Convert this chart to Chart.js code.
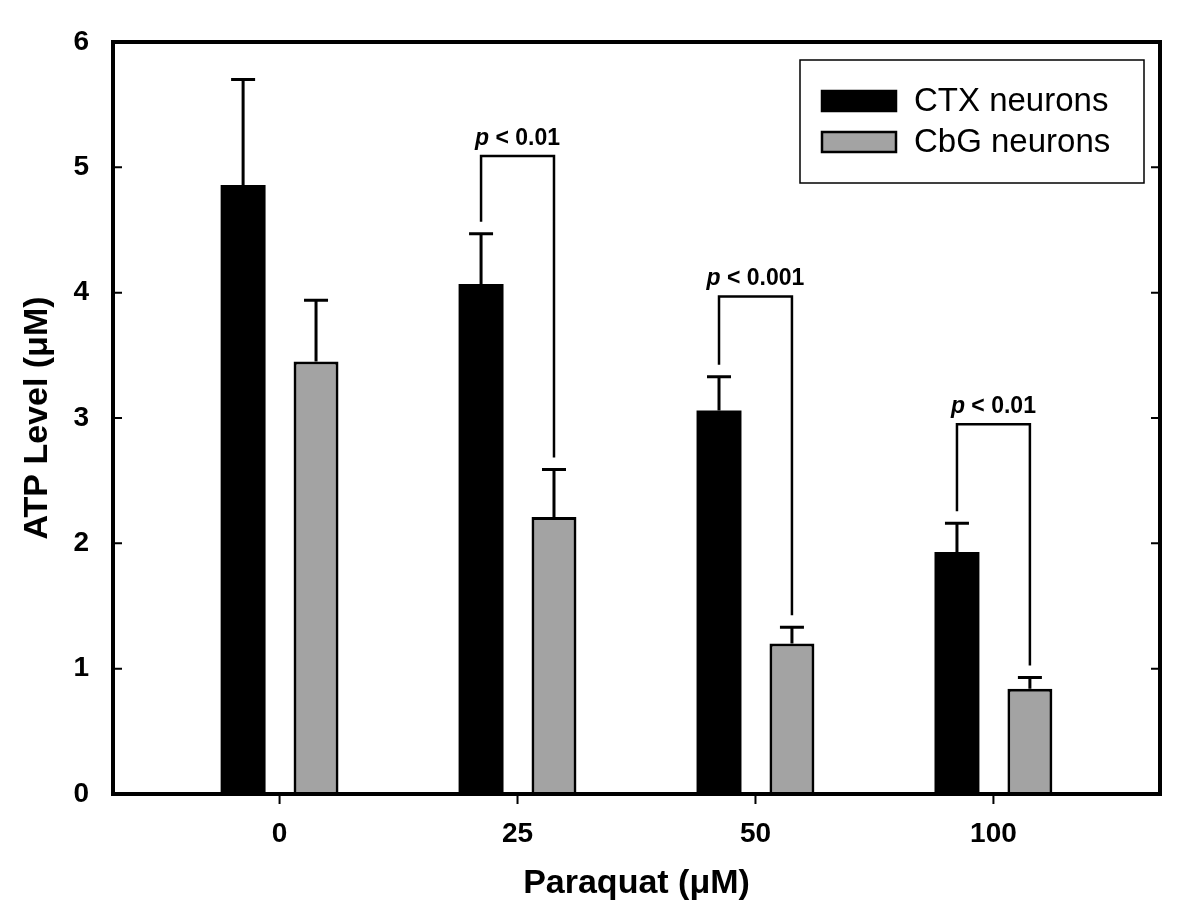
<!DOCTYPE html>
<html>
<head>
<meta charset="utf-8">
<script src="https://cdn.jsdelivr.net/npm/chart.js@4.4.1/dist/chart.umd.min.js"></script>
<style>
html,body{margin:0;padding:0;background:#fff;}
#wrap{width:1200px;height:912px;}
</style>
</head>
<body>
<div id="wrap"><canvas id="c" width="1200" height="912"></canvas></div>
<script>
// ---- data ----
const categories = ['0', '25', '50', '100'];
const seriesNames = ['CTX neurons', 'CbG neurons'];
const ctxValues = [4.86, 4.07, 3.06, 1.93];
const ctxErrors = [0.84, 0.40, 0.27, 0.23];
const cbgValues = [3.45, 2.21, 1.20, 0.84];
const cbgErrors = [0.49, 0.38, 0.13, 0.09];
const yTicks = [0, 1, 2, 3, 4, 5, 6];
const sigCategories = [1, 2, 3];
const sigLabels = ['< 0.01', '< 0.001', '< 0.01'];
const sigBracketLevel = [5.09, 3.97, 2.95];

const FONT = "'Liberation Sans', Arial, Helvetica, sans-serif";

const toPoints = (vals) => vals.map((v, i) => ({ x: i, y: v }));

const errorBars = {
  id: 'errorBars',
  afterDatasetsDraw(chart) {
    const ctx = chart.ctx;
    const y = chart.scales.y;
    const errs = [ctxErrors, cbgErrors];
    ctx.save();
    ctx.strokeStyle = '#000';
    ctx.lineWidth = 3;
    chart.data.datasets.forEach((ds, di) => {
      const meta = chart.getDatasetMeta(di);
      meta.data.forEach((bar, i) => {
        const v = ds.data[i].y;
        const top = y.getPixelForValue(v + errs[di][i]);
        ctx.beginPath();
        ctx.moveTo(bar.x, bar.y);
        ctx.lineTo(bar.x, top);
        ctx.moveTo(bar.x - 12, top);
        ctx.lineTo(bar.x + 12, top);
        ctx.stroke();
      });
    });
    // significance brackets
    const m0 = chart.getDatasetMeta(0), m1 = chart.getDatasetMeta(1);
    sigCategories.forEach((ci, k) => {
      const xl = m0.data[ci].x, xr = m1.data[ci].x;
      const yt = y.getPixelForValue(sigBracketLevel[k]);
      const yl = y.getPixelForValue(ctxValues[ci] + ctxErrors[ci]) - 12;
      const yr = y.getPixelForValue(cbgValues[ci] + cbgErrors[ci]) - 12;
      ctx.lineWidth = 2.5;
      ctx.beginPath();
      ctx.moveTo(xl, yl);
      ctx.lineTo(xl, yt);
      ctx.lineTo(xr, yt);
      ctx.lineTo(xr, yr);
      ctx.stroke();
      // label: italic p + rest
      ctx.fillStyle = '#000';
      ctx.textBaseline = 'alphabetic';
      ctx.textAlign = 'left';
      const f1 = 'italic bold 23px ' + FONT;
      const f2 = 'bold 23px ' + FONT;
      ctx.font = f1;
      const w1 = ctx.measureText('p').width;
      ctx.font = f2;
      const rest = ' ' + sigLabels[k];
      const w2 = ctx.measureText(rest).width;
      const x0 = (xl + xr) / 2 - (w1 + w2) / 2;
      const by = yt - 11;
      ctx.font = f1;
      ctx.fillText('p', x0, by);
      ctx.font = f2;
      ctx.fillText(rest, x0 + w1, by);
    });
    ctx.restore();
  }
};

const frame = {
  id: 'frame',
  afterDraw(chart) {
    const ctx = chart.ctx;
    const a = chart.chartArea;
    const y = chart.scales.y, x = chart.scales.x;
    ctx.save();
    ctx.strokeStyle = '#000';
    // ticks
    ctx.lineWidth = 2;
    ctx.beginPath();
    y.ticks.forEach(t => {
      const py = y.getPixelForValue(t.value);
      ctx.moveTo(a.left, py); ctx.lineTo(a.left + 9, py);
      ctx.moveTo(a.right, py); ctx.lineTo(a.right - 9, py);
    });
    x.ticks.forEach(t => {
      const px = x.getPixelForValue(t.value);
      ctx.moveTo(px, a.bottom); ctx.lineTo(px, a.bottom + 10);
    });
    ctx.stroke();
    // frame
    ctx.lineWidth = 4;
    ctx.strokeRect(a.left, a.top, a.right - a.left, a.bottom - a.top);
    // legend
    const bx = a.right - 360, by = a.top + 18, bw = 344, bh = 123;
    ctx.lineWidth = 1.5;
    ctx.strokeRect(bx, by, bw, bh);
    const rows = [by + 41, by + 82];
    chart.data.datasets.forEach((ds, i) => {
      const cy = rows[i];
      ctx.fillStyle = ds.backgroundColor;
      ctx.fillRect(bx + 21, cy - 11, 76, 22);
      ctx.lineWidth = 2.5;
      ctx.strokeStyle = '#000';
      ctx.strokeRect(bx + 22, cy - 10, 74, 20);
      ctx.fillStyle = '#000';
      ctx.font = '33px ' + FONT;
      ctx.textAlign = 'left';
      ctx.textBaseline = 'middle';
      ctx.fillText(ds.label, bx + 114, cy + 1);
    });
    ctx.restore();
  }
};

new Chart(document.getElementById('c'), {
  type: 'bar',
  data: {
    datasets: [
      { label: seriesNames[0], data: toPoints(ctxValues), backgroundColor: '#000000', borderColor: '#000', borderWidth: 0 },
      { label: seriesNames[1], data: toPoints(cbgValues), backgroundColor: '#a3a3a3', borderColor: '#000', borderWidth: 3 }
    ]
  },
  options: {
    responsive: false,
    animation: false,
    devicePixelRatio: 1,
    layout: { padding: { top: 42, right: 40, bottom: 0, left: 0 } },
    categoryPercentage: 0.613,
    barPercentage: 0.616,
    plugins: { legend: { display: false }, tooltip: { enabled: false } },
    scales: {
      x: {
        type: 'linear',
        offset: false,
        min: -0.7,
        max: 3.7,
        grid: { display: false, offset: false },
        border: { display: false },
        afterFit(s) { s.height = 118; },
        afterBuildTicks(s) { s.ticks = categories.map((c, i) => ({ value: i })); },
        ticks: {
          autoSkip: false,
          maxRotation: 0,
          padding: 15,
          color: '#000',
          font: { family: FONT, size: 28, weight: 'bold' },
          callback: (v) => categories[v]
        },
        title: {
          display: true,
          text: 'Paraquat (μM)',
          color: '#000',
          font: { family: FONT, size: 34, weight: 'bold' },
          padding: { top: 0, bottom: 8 }
        }
      },
      y: {
        min: 0,
        max: 6,
        grid: { display: false },
        border: { display: false },
        afterFit(s) { s.width = 113; },
        afterBuildTicks(s) { s.ticks = yTicks.map(v => ({ value: v })); },
        ticks: {
          padding: 16,
          color: '#000',
          font: { family: FONT, size: 28, weight: 'bold' }
        },
        title: {
          display: true,
          text: 'ATP Level (μM)',
          color: '#000',
          font: { family: FONT, size: 34, weight: 'bold' },
          padding: { top: 17, bottom: 0 }
        }
      }
    }
  },
  plugins: [errorBars, frame]
});
</script>
</body>
</html>
